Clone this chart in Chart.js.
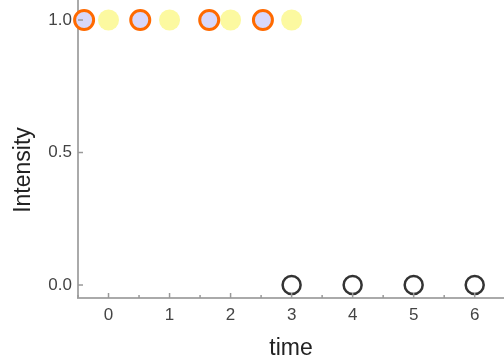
<!DOCTYPE html>
<html>
<head>
<meta charset="utf-8">
<script src="https://cdn.jsdelivr.net/npm/chart.js@4"></script>
<style>
  html, body { margin: 0; padding: 0; background: #fff; }
  #wrap { width: 504px; height: 362px; }
</style>
</head>
<body>
<div id="wrap"><canvas id="plot" width="504" height="362"></canvas></div>
<script>
/* DATA */
const onTimes = [-0.4, 0.52, 1.65, 2.53];
const onLevels = [1, 1, 1, 1];

const stepTimes = [0, 1, 2, 3];
const stepLevels = [1, 1, 1, 1];

const offTimes = [3, 4, 5, 6];
const offLevels = [0, 0, 0, 0];

const xTicks = [0, 1, 2, 3, 4, 5, 6];
const yTicks = [0, 0.5, 1];

const yLabel = "Intensity";

const toPoints = (xs, ys) => xs.map((x, i) => ({ x: x, y: ys[i] }));

const fontFamily = "'Liberation Sans', Arial, sans-serif";
const tickFont = { family: fontFamily, size: 17 };
const titleFont = { family: fontFamily, size: 23 };


/* inward tick marks + rotated y title */
const axisExtras = {
  id: "axisExtras",
  afterDraw(chart) {
    const ctx = chart.ctx;
    const xs = chart.scales.x;
    const ys = chart.scales.y;
    const bottom = chart.chartArea.bottom;
    const left = chart.chartArea.left;

    ctx.save();
    ctx.strokeStyle = "#999";
    ctx.lineWidth = 1.5;

    for (let v = -0.5; v <= 6.5; v += 0.5) {
      const px = xs.getPixelForValue(v);
      const len = Number.isInteger(v) ? 5 : 3;
      ctx.beginPath();
      ctx.moveTo(px, bottom);
      ctx.lineTo(px, bottom - len);
      ctx.stroke();
    }

    yTicks.forEach(v => {
      const py = ys.getPixelForValue(v);
      ctx.beginPath();
      ctx.moveTo(left, py);
      ctx.lineTo(left + 5, py);
      ctx.stroke();
    });

    // y title sits a bit below the middle of the axis
    ctx.translate(30, 170);
    ctx.rotate(-Math.PI / 2);
    ctx.fillStyle = "#222";
    ctx.font = titleFont.size + "px " + fontFamily;
    ctx.textAlign = "center";
    ctx.textBaseline = "alphabetic";
    ctx.fillText(yLabel, 0, 0);

    ctx.restore();
  }
};


new Chart(document.getElementById("plot"), {

  type: "scatter",

  data: {
    datasets: [
      {
        data: toPoints(onTimes, onLevels),
        pointRadius: 9.5,
        pointBorderWidth: 3,
        pointBackgroundColor: "#d8d8fb",
        pointBorderColor: "#ff6a00",
        clip: false
      },
      {
        data: toPoints(stepTimes, stepLevels),
        pointRadius: 10.5,
        pointBorderWidth: 0,
        pointBackgroundColor: "#fcf9a0",
        pointBorderColor: "#fcf9a0",
        clip: false
      },
      {
        data: toPoints(offTimes, offLevels),
        pointRadius: 9,
        pointBorderWidth: 2.5,
        pointBackgroundColor: "rgba(255,255,255,0)",
        pointBorderColor: "#333",
        clip: false
      }
    ]
  },

  options: {
    responsive: false,
    animation: false,
    layout: { padding: 0, autoPadding: false },

    plugins: {
      legend: { display: false },
      tooltip: { enabled: false }
    },

    scales: {
      x: {
        type: "linear",
        min: -0.5,
        max: 6.48,
        afterBuildTicks: s => { s.ticks = xTicks.map(v => ({ value: v })); },
        afterFit: s => {
          s.height = 64;
          s.paddingLeft = 0;
          s.paddingRight = 0;
        },
        grid: { display: false, drawTicks: false },
        border: { display: true, color: "#aaa", width: 2 },
        ticks: {
          color: "#444",
          font: tickFont,
          padding: 7,
          maxRotation: 0
        },
        title: {
          display: true,
          text: "time",
          color: "#222",
          font: titleFont,
          padding: { top: 8, bottom: 0 }
        }
      },
      y: {
        type: "linear",
        min: -0.049,
        max: 1.0755,
        afterBuildTicks: s => { s.ticks = yTicks.map(v => ({ value: v })); },
        afterFit: s => {
          s.width = 78;
          s.paddingTop = 0;
          s.paddingBottom = 0;
        },
        grid: { display: false, drawTicks: false },
        border: { display: true, color: "#aaa", width: 2 },
        ticks: {
          color: "#444",
          font: tickFont,
          padding: 6,
          callback: v => v.toFixed(1)
        },
        title: { display: false }
      }
    }
  },

  plugins: [axisExtras]

});
</script>
</body>
</html>
